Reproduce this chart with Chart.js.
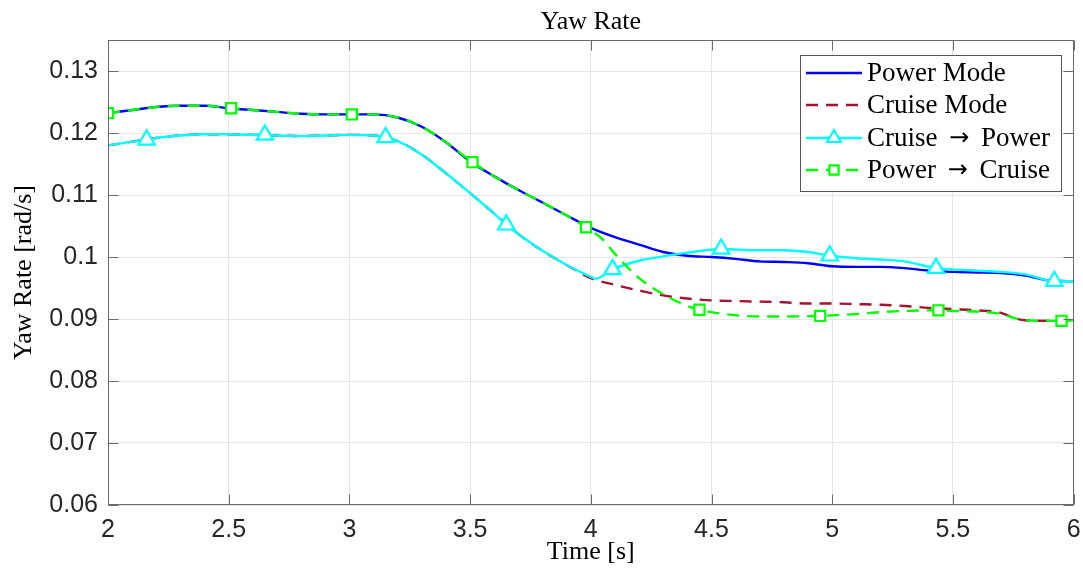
<!DOCTYPE html>
<html>
<head>
<meta charset="utf-8">
<script src="https://cdn.jsdelivr.net/npm/chart.js@4/dist/chart.umd.min.js"></script>
<style>
html,body{margin:0;padding:0;background:#fff;}
#wrap{width:1083px;height:571px;position:relative;}
</style>
</head>
<body>
<div id="wrap"><canvas id="c" width="1083" height="571"></canvas></div>
<script>
// ---- data ----
const chartTitle = 'Yaw Rate';
const xTitle = 'Time [s]';
const yTitle = 'Yaw Rate [rad/s]';
const seriesLabels = ['Power Mode', 'Cruise Mode', 'Cruise \u2192 Power', 'Power \u2192 Cruise'];

const xTicks = [2, 2.5, 3, 3.5, 4, 4.5, 5, 5.5, 6];
const xTickLabels = ['2', '2.5', '3', '3.5', '4', '4.5', '5', '5.5', '6'];
const yTicks = [0.06, 0.07, 0.08, 0.09, 0.10, 0.11, 0.12, 0.13];
const yTickLabels = ['0.06', '0.07', '0.08', '0.09', '0.1', '0.11', '0.12', '0.13'];

const timePM = [2.0,2.1,2.2,2.3,2.4,2.5,2.6,2.7,2.8,2.9,3.0,3.1,3.2,3.3,3.4,3.5,3.6,3.7,3.8,3.9,4.0,4.1,4.2,4.3,4.4,4.5,4.6,4.7,4.8,4.9,5.0,5.1,5.2,5.3,5.4,5.5,5.6,5.7,5.8,5.9,6.0];
const yawPM = [0.1232,0.1237,0.1242,0.1244,0.1244,0.1240,0.1237,0.1234,0.1231,0.1230,0.1230,0.1230,0.1225,0.1210,0.1185,0.1154,0.1130,0.1108,0.1088,0.1067,0.1047,0.1032,0.1020,0.1008,0.1002,0.1000,0.0997,0.0993,0.0992,0.0990,0.0985,0.0984,0.0984,0.0982,0.0978,0.0976,0.0975,0.0974,0.0970,0.0962,0.0961];

const timeCM = [2.0,2.1,2.2,2.3,2.4,2.5,2.6,2.7,2.8,2.9,3.0,3.1,3.2,3.3,3.4,3.5,3.6,3.7,3.8,3.9,4.0,4.1,4.2,4.3,4.4,4.5,4.6,4.7,4.8,4.9,5.0,5.1,5.2,5.3,5.4,5.5,5.6,5.7,5.75,5.8,5.9,6.0];
const yawCM = [0.1180,0.1186,0.1192,0.1196,0.1198,0.1198,0.1197,0.1196,0.1195,0.1196,0.1197,0.1196,0.1187,0.1165,0.1135,0.1103,0.1070,0.1037,0.1010,0.0987,0.0966,0.0955,0.0946,0.0938,0.0933,0.0930,0.0929,0.0928,0.0927,0.0925,0.0925,0.0924,0.0923,0.0921,0.0918,0.0916,0.0914,0.0910,0.0902,0.0898,0.0897,0.0899];

const timeCP = [2.0,2.1,2.16,2.2,2.3,2.4,2.5,2.6,2.65,2.7,2.8,2.9,3.0,3.1,3.15,3.2,3.3,3.4,3.5,3.6,3.65,3.7,3.8,3.9,4.0,4.02,4.09,4.2,4.3,4.4,4.54,4.6,4.7,4.8,4.9,4.99,5.1,5.2,5.3,5.43,5.5,5.6,5.7,5.8,5.92,6.0];
const yawCP = [0.1180,0.1186,0.1189,0.1192,0.1196,0.1198,0.1198,0.1197,0.1197,0.1196,0.1195,0.1196,0.1197,0.1196,0.1193,0.1187,0.1165,0.1135,0.1103,0.1070,0.1052,0.1037,0.1010,0.0987,0.0968,0.0965,0.0980,0.0994,0.1001,0.1007,0.1013,0.1012,0.1011,0.1011,0.1008,0.1002,0.0998,0.0996,0.0993,0.0982,0.0980,0.0978,0.0976,0.0972,0.0961,0.0961];
const markersCP = [2.16, 2.65, 3.15, 3.65, 4.09, 4.54, 4.99, 5.43, 5.92];

const timePC = [2.0,2.1,2.2,2.3,2.4,2.51,2.6,2.7,2.8,2.9,3.01,3.1,3.2,3.3,3.4,3.51,3.6,3.7,3.8,3.9,3.98,4.05,4.1,4.2,4.3,4.4,4.45,4.5,4.6,4.7,4.8,4.95,5.1,5.2,5.3,5.44,5.5,5.6,5.7,5.75,5.8,5.95,6.0];
const yawPC = [0.1232,0.1237,0.1242,0.1244,0.1244,0.1240,0.1237,0.1234,0.1231,0.1230,0.1230,0.1230,0.1225,0.1210,0.1185,0.1153,0.1130,0.1108,0.1088,0.1067,0.1048,0.1028,0.1005,0.0966,0.0940,0.0921,0.0915,0.0911,0.0906,0.0904,0.0904,0.0905,0.0908,0.0911,0.0913,0.0914,0.0913,0.0912,0.0908,0.0902,0.0898,0.0897,0.0898];
const markersPC = [2.0, 2.51, 3.01, 3.51, 3.98, 4.45, 4.95, 5.44, 5.95];

// ---- build chart ----
const SERIF = '"Liberation Serif", "Times New Roman", serif';
const SANS = '"Liberation Sans", Arial, Helvetica, sans-serif';
const toXY = (ts, vs) => ts.map((t, i) => ({x: t, y: vs[i]}));
const markerRadius = (list, r) => (ctx) => (ctx.raw && list.includes(ctx.raw.x)) ? r : 0;

const datasets = [
  {label: seriesLabels[0], data: toXY(timePM, yawPM), borderColor: '#0000ff', borderWidth: 2.4, pointRadius: 0, order: 4},
  {label: seriesLabels[1], data: toXY(timeCM, yawCM), borderColor: '#a2142f', borderWidth: 2.4, borderDash: [12, 8], pointRadius: 0, order: 3},
  {label: seriesLabels[2], data: toXY(timeCP, yawCP), borderColor: '#00ffff', borderWidth: 2.4, pointStyle: 'triangle',
   pointRadius: markerRadius(markersCP, 9.5), pointBorderColor: '#00ffff', pointBackgroundColor: '#ffffff', pointBorderWidth: 2.2, order: 2, legendMarker: 8},
  {label: seriesLabels[3], data: toXY(timePC, yawPC), borderColor: '#00ff00', borderWidth: 2.4, borderDash: [12, 8], pointStyle: 'rect',
   pointRadius: markerRadius(markersPC, 7.2), pointBorderColor: '#00ff00', pointBackgroundColor: '#ffffff', pointBorderWidth: 2.2, order: 1, legendMarker: 6.5}
];
datasets.forEach(d => { d.fill = false; d.cubicInterpolationMode = 'monotone'; d.pointHoverRadius = 0; });

const boxPlugin = {
  id: 'boxPlugin',
  afterDraw(chart) {
    const {ctx, chartArea: a, scales} = chart;
    ctx.save();
    // title centred over the plot area
    ctx.fillStyle = '#000';
    ctx.font = '26px ' + SERIF;
    ctx.textAlign = 'center';
    ctx.textBaseline = 'middle';
    ctx.fillText(chartTitle, (a.left + a.right) / 2, 22);

    ctx.strokeStyle = '#6a6a6a';
    ctx.lineWidth = 1;
    const L = Math.round(a.left) + 0.5, R = Math.round(a.right) - 0.5, T = Math.round(a.top) + 0.5, B = Math.round(a.bottom) - 0.5;
    ctx.strokeRect(L, T, R - L, B - T);
    const tl = 10;
    ctx.beginPath();
    xTicks.forEach(v => {
      const px = Math.round(scales.x.getPixelForValue(v)) + 0.5;
      ctx.moveTo(px, B); ctx.lineTo(px, B - tl);
      ctx.moveTo(px, T); ctx.lineTo(px, T + tl);
    });
    yTicks.forEach(v => {
      const py = Math.round(scales.y.getPixelForValue(v)) + 0.5;
      ctx.moveTo(L, py); ctx.lineTo(L + tl, py);
      ctx.moveTo(R, py); ctx.lineTo(R - tl, py);
    });
    ctx.stroke();

    // legend
    const bx = 800.5, by = 55.5, bw = 261, bh = 136;
    ctx.fillStyle = '#ffffff';
    ctx.fillRect(bx, by, bw, bh);
    ctx.strokeStyle = '#555555';
    ctx.strokeRect(bx, by, bw, bh);
    const rows = [73, 105, 138, 170];
    chart.data.datasets.forEach((d, i) => {
      const y = rows[i];
      ctx.save();
      ctx.strokeStyle = d.borderColor;
      ctx.lineWidth = d.borderWidth;
      ctx.setLineDash(d.borderDash || []);
      ctx.beginPath();
      ctx.moveTo(806, y); ctx.lineTo(862, y);
      ctx.stroke();
      ctx.setLineDash([]);
      if (d.legendMarker) {
        ctx.fillStyle = '#ffffff';
        ctx.strokeStyle = d.pointBorderColor;
        ctx.lineWidth = 2.2;
        ctx.beginPath();
        const r = d.legendMarker;
        if (d.pointStyle === 'triangle') {
          ctx.moveTo(834, y - r);
          ctx.lineTo(834 + Math.sin(2.0944) * r, y - Math.cos(2.0944) * r);
          ctx.lineTo(834 + Math.sin(4.18879) * r, y - Math.cos(4.18879) * r);
          ctx.closePath();
        } else {
          const s = r * Math.SQRT1_2;
          ctx.rect(834 - s, y - s, 2 * s, 2 * s);
        }
        ctx.fill(); ctx.stroke();
      }
      ctx.restore();
      ctx.fillStyle = '#000000';
      ctx.textBaseline = 'middle';
      ctx.textAlign = 'left';
      // label drawn in pieces so the arrow can use a font with a long arrow glyph
      const parts = d.label.split('\u2192');
      let x = 867;
      parts.forEach((p, k) => {
        ctx.font = '27px ' + SERIF;
        ctx.fillText(p, x, y + 1);
        x += ctx.measureText(p).width;
        if (k < parts.length - 1) {
          x += 5;
          ctx.font = '24px "DejaVu Sans"';
          ctx.fillText('\u2192', x, y + 1);
          x += ctx.measureText('\u2192').width + 5;
        }
      });
    });
    ctx.restore();
  }
};

new Chart(document.getElementById('c'), {
  type: 'line',
  data: {datasets},
  plugins: [boxPlugin],
  options: {
    responsive: false,
    animation: false,
    events: [],
    layout: {padding: {left: 0, right: 8, top: 40, bottom: 0}},
    plugins: {
      legend: {display: false},
      tooltip: {enabled: false},
      title: {display: false}
    },
    scales: {
      x: {
        type: 'linear', min: 2, max: 6,
        afterBuildTicks: s => { s.ticks = xTicks.map(v => ({value: v})); },
        afterFit: s => { s.height = 66; s.paddingRight = 0; s.paddingLeft = 0; },
        ticks: {color: '#262626', font: {family: SANS, size: 25}, padding: 10, maxRotation: 0, autoSkip: false,
                callback: (v) => { const i = xTicks.indexOf(v); return i >= 0 ? xTickLabels[i] : ''; }},
        grid: {color: '#e6e6e6', drawTicks: false, lineWidth: 1},
        border: {display: false},
        title: {display: true, text: xTitle, color: '#000', font: {family: SERIF, size: 26, lineHeight: 1.2}, padding: {top: 0, bottom: 3}}
      },
      y: {
        type: 'linear', min: 0.06, max: 0.135,
        afterBuildTicks: s => { s.ticks = yTicks.map(v => ({value: v})); },
        afterFit: s => { s.width = 108; s.paddingTop = 0; s.paddingBottom = 0; },
        ticks: {color: '#262626', font: {family: SANS, size: 25}, padding: 10, autoSkip: false,
                callback: (v) => { const i = yTicks.findIndex(t => Math.abs(t - v) < 1e-9); return i >= 0 ? yTickLabels[i] : ''; }},
        grid: {color: '#e6e6e6', drawTicks: false, lineWidth: 1},
        border: {display: false},
        title: {display: true, text: yTitle, color: '#000', font: {family: SERIF, size: 26, lineHeight: 1.2}, padding: {top: 9, bottom: 0}}
      }
    }
  }
});
</script>
</body>
</html>
